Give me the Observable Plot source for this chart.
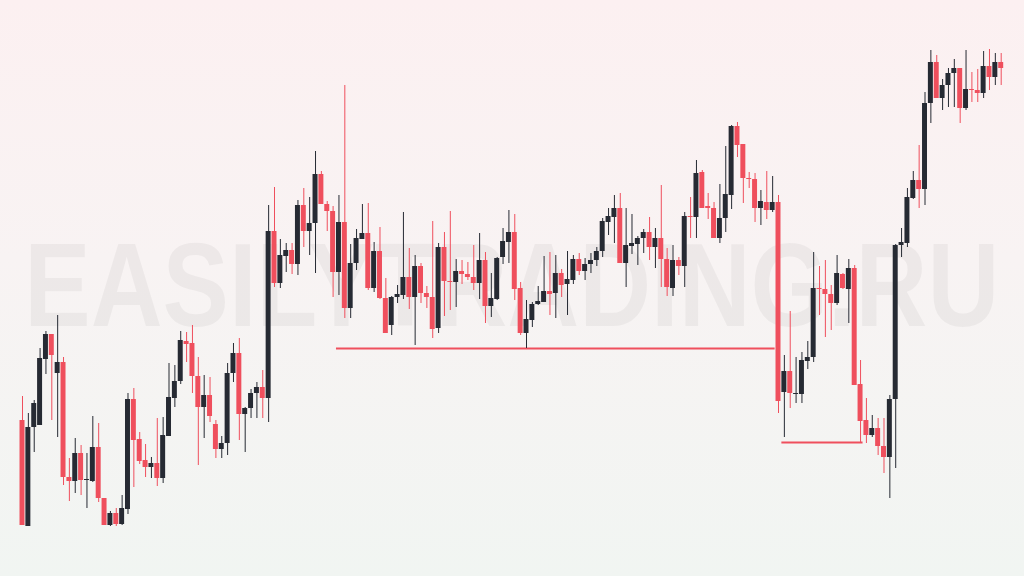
<!DOCTYPE html>
<html><head><meta charset="utf-8">
<script src="https://cdn.jsdelivr.net/npm/d3@7"></script>
<script src="https://cdn.jsdelivr.net/npm/@observablehq/plot@0.6"></script>
<style>
html,body{margin:0;padding:0;width:1024px;height:576px;overflow:hidden;}
body{background:linear-gradient(to bottom,#fcf0f1 0%,#f8f3f3 45%,#f1f5f2 100%);}
#chart svg{display:block}
</style></head><body><div id="chart"></div>
<script>
// price values (arbitrary units)
const open=[180,74,173,175,241,266,227,238,123,119,
147,120,119,153,102,75,87,76,91,201,
161,140,133,137,122,164,202,219,259,257,
224,193,205,176,151,157,227,247,186,192,
207,213,202,369,317,344,350,336,395,369,
377,426,396,389,328,378,292,337,361,367,
312,349,302,275,303,305,323,303,334,307,
303,272,353,319,318,329,326,323,317,340,
294,301,343,358,368,312,267,280,296,298,
309,307,327,316,320,341,329,336,340,349,
378,383,392,337,354,356,362,368,353,362,
341,312,340,334,384,383,428,394,392,362,
382,405,474,456,422,421,392,398,390,398,
208,229,206,206,239,243,312,311,306,297,
326,311,332,216,180,165,172,154,143,201,
355,357,402,420,411,497,538,502,515,527,
532,492,511,510,507,534,523,538];
const high=[204,187,200,252,269,266,285,243,142,162,
155,147,184,177,102,89,92,105,207,212,
168,156,143,182,183,237,235,269,268,275,
243,225,223,180,164,237,257,262,193,211,
218,230,395,413,361,357,357,400,412,403,
449,429,399,394,405,515,356,371,396,397,
358,373,322,304,315,388,352,345,337,314,
379,357,368,389,341,340,338,355,367,348,
327,343,372,390,386,318,300,298,314,344,
348,345,331,349,345,347,342,347,353,382,
392,405,407,392,386,364,371,383,372,415,
352,355,343,388,403,440,430,407,398,416,
454,475,478,456,428,427,410,429,424,405,
245,289,243,248,259,348,334,340,315,345,
327,341,335,240,202,185,182,182,205,356,
372,412,429,455,508,550,545,521,532,541,
532,550,528,531,549,551,547,547];
const low=[75,74,148,175,226,180,163,115,99,107,
105,92,118,98,75,74,74,75,86,113,
136,123,122,114,117,164,193,216,238,207,
135,162,178,142,142,145,218,160,148,182,
182,182,178,313,312,328,326,325,353,345,
327,396,369,303,305,282,282,330,361,310,
308,301,267,265,297,301,291,255,297,292,
262,267,284,290,293,316,320,310,301,277,
283,300,336,337,300,265,252,273,295,298,
285,282,303,285,316,325,320,327,334,343,
365,357,337,313,346,335,347,340,332,313,
304,304,325,313,362,362,392,381,362,357,
368,391,443,397,412,378,375,381,388,187,
163,192,197,197,231,238,285,263,270,295,
311,277,215,158,157,163,145,127,102,132,
343,353,401,392,395,477,502,490,493,493,
477,490,498,498,502,510,515,515];
const close=[75,173,197,242,266,245,238,123,119,147,
120,121,153,102,75,87,76,92,201,160,
139,133,137,122,165,203,219,260,256,224,
193,205,184,151,157,227,247,186,192,207,
213,202,369,317,345,350,336,395,369,377,
426,396,389,328,378,292,337,362,367,312,
349,302,267,303,306,323,303,334,307,303,
271,353,319,318,329,326,323,317,340,294,
302,342,359,368,311,267,281,296,299,309,
306,327,315,321,341,329,336,340,349,379,
384,392,337,355,357,362,368,353,362,341,
313,340,334,384,383,427,392,392,362,382,
406,474,455,422,421,392,399,390,398,199,
229,207,207,240,243,312,311,306,297,327,
312,332,215,179,165,172,154,143,201,355,
358,403,420,411,497,538,502,515,527,532,
492,511,510,507,534,523,538,532];
// horizontal levels: candle index range and price
const levelFrom=[55,131];
const levelTo=[129,144];
const levelPrice=[252,158];
const watermark="EASILYTRADING.RU";

const RED="#ef4f5d", DARK="#262a33";
const candles=open.map((o,k)=>({i:k+1,open:o,high:high[k],low:low[k],close:close[k],up:close[k]>o}));
const levels=levelFrom.map((f,k)=>({from:f,to:levelTo[k],price:levelPrice[k]}));

const chart=Plot.plot({
  width:1024,height:576,
  marginLeft:19.07,marginRight:20.37,marginTop:0,marginBottom:0,
  style:{background:"transparent"},
  x:{type:"band",domain:candles.map(d=>d.i),paddingInner:0.15,paddingOuter:0.075,axis:null},
  y:{domain:[24,600],axis:null},
  marks:[
    Plot.text([watermark],{frameAnchor:"middle",text:d=>d,fontSize:88,fill:"#000",fillOpacity:0.045,fontFamily:"Liberation Sans, Arial, sans-serif",fontWeight:"bold"}),
    Plot.ruleY(levels,{x1:"from",x2:"to",y:"price",stroke:RED,strokeWidth:2}),
    Plot.ruleX(candles,{x:"i",y1:"low",y2:"high",stroke:d=>d.up?DARK:RED,strokeWidth:1}),
    Plot.barY(candles,{x:"i",y1:"open",y2:"close",fill:d=>d.up?DARK:RED})
  ]
});
document.getElementById("chart").appendChild(chart);
const wm=d3.select(chart).selectAll("text").filter(function(){return this.textContent===watermark;});
wm.each(function(){
  const t=d3.select(this);
  const tr=t.attr("transform");
  t.attr("textLength",975).attr("lengthAdjust","spacingAndGlyphs");
  if(tr){
    t.attr("transform",`${tr} scale(1,1.34)`);
  }else{
    const cx=+t.attr("x")||0, cy=+t.attr("y")||0;
    t.attr("transform",`translate(${cx},${cy}) scale(1,1.34) translate(${-cx},${-cy})`);
  }
});
</script>
</body></html>
